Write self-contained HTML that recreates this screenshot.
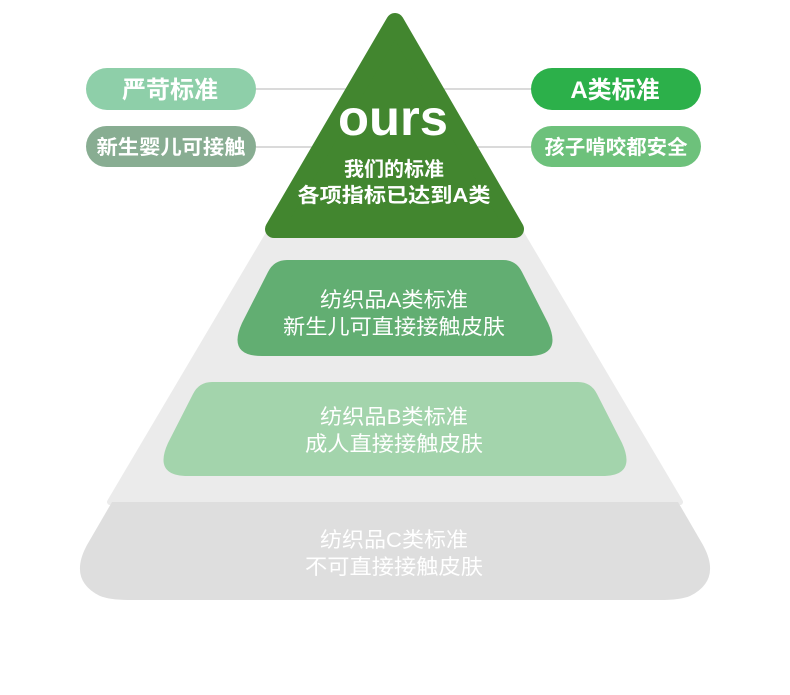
<!DOCTYPE html>
<html><head><meta charset="utf-8"><style>
html,body{margin:0;padding:0;background:#fff;width:790px;height:695px;overflow:hidden}
svg{display:block}
text{font-family:"Liberation Sans","Noto Sans CJK SC",sans-serif}
</style></head><body>
<svg width="790" height="695" viewBox="0 0 790 695" xmlns="http://www.w3.org/2000/svg">
<path d="M395 20 L680 502 L110 502 Z" fill="#ebebeb" stroke="#ebebeb" stroke-width="6" stroke-linejoin="round"/>
<path d="M112 502 H678 L703 545 Q722 580 690 596 Q680 600 660 600 H130 Q110 600 100 596 Q68 580 87 545 Z" fill="#dedede"/>
<line x1="256" y1="89" x2="400" y2="89" stroke="#b5b5b5" stroke-width="1"/>
<line x1="256" y1="147" x2="400" y2="147" stroke="#b5b5b5" stroke-width="1"/>
<line x1="390" y1="89" x2="531" y2="89" stroke="#b5b5b5" stroke-width="1"/>
<line x1="390" y1="147" x2="531" y2="147" stroke="#b5b5b5" stroke-width="1"/>
<path d="M395 22 L515 229 L274 229 Z" fill="#42862f" stroke="#42862f" stroke-width="18" stroke-linejoin="round"/>
<text x="393" y="135" text-anchor="middle" fill="#fff" font-size="50" font-weight="bold" textLength="110" lengthAdjust="spacingAndGlyphs">ours</text>
<text x="394" y="176" text-anchor="middle" fill="#fff" font-size="20" font-weight="bold">我们的标准</text>
<text x="394" y="202" text-anchor="middle" fill="#fff" font-size="20" font-weight="bold" textLength="193" lengthAdjust="spacingAndGlyphs">各项指标已达到A类</text>
<path d="M287 260 H503 Q516 260 522 272 L548 323 Q563 356 528 356 H262 Q227 356 242 323 L268 272 Q274 260 287 260 Z" fill="#62ae72"/>
<text x="394" y="307" text-anchor="middle" fill="#fff" font-size="21" textLength="148" lengthAdjust="spacingAndGlyphs">纺织品A类标准</text>
<text x="394" y="334" text-anchor="middle" fill="#fff" font-size="21" textLength="222" lengthAdjust="spacingAndGlyphs">新生儿可直接接触皮肤</text>
<path d="M212 382 H578 Q591 382 597 394 L622 443 Q637 476 602 476 H188 Q153 476 168 443 L193 394 Q199 382 212 382 Z" fill="#a3d4ac"/>
<text x="394" y="424" text-anchor="middle" fill="#fff" font-size="21" textLength="148" lengthAdjust="spacingAndGlyphs">纺织品B类标准</text>
<text x="394" y="451" text-anchor="middle" fill="#fff" font-size="21" textLength="178" lengthAdjust="spacingAndGlyphs">成人直接接触皮肤</text>
<text x="394" y="547" text-anchor="middle" fill="#fff" font-size="21" textLength="148" lengthAdjust="spacingAndGlyphs">纺织品C类标准</text>
<text x="394" y="574" text-anchor="middle" fill="#fff" font-size="21" textLength="178" lengthAdjust="spacingAndGlyphs">不可直接接触皮肤</text>
<rect x="86" y="68" width="170" height="42" rx="21" fill="#8ecfa9"/>
<text x="170" y="98" text-anchor="middle" fill="#fff" font-size="24" font-weight="bold">严苛标准</text>
<rect x="86" y="126" width="170" height="41" rx="20.5" fill="#88ad92"/>
<text x="171" y="154" text-anchor="middle" fill="#fff" font-size="20" font-weight="bold" textLength="149" lengthAdjust="spacingAndGlyphs">新生婴儿可接触</text>
<rect x="531" y="68" width="170" height="42" rx="21" fill="#2cb04a"/>
<text x="615" y="98" text-anchor="middle" fill="#fff" font-size="24" font-weight="bold">A类标准</text>
<rect x="531" y="126" width="170" height="41" rx="20.5" fill="#6dc17b"/>
<text x="616" y="154" text-anchor="middle" fill="#fff" font-size="20" font-weight="bold" textLength="143" lengthAdjust="spacingAndGlyphs">孩子啃咬都安全</text>
</svg>
</body></html>
